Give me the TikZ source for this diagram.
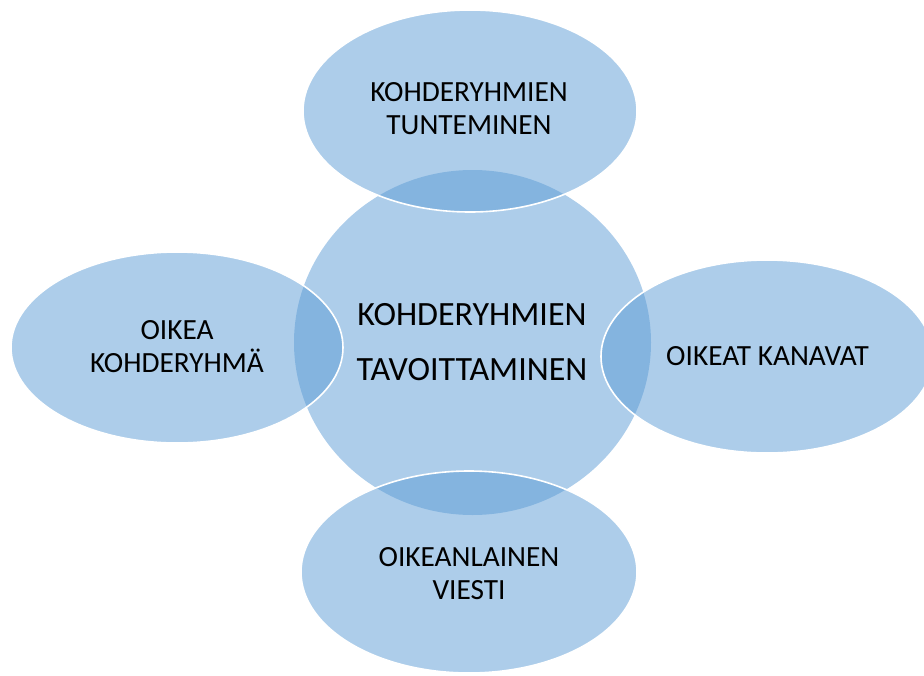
\documentclass[tikz,border=0pt]{standalone}
\usepackage{fontspec}
\setmainfont{Carlito}
\usetikzlibrary{shapes.geometric}
\definecolor{accentblue}{RGB}{91,155,213}
\tikzset{
  blob/.style={ellipse, inner sep=0pt, fill=accentblue, fill opacity=0.5},
  petal/.style={blob, draw=white, draw opacity=1, line width=1.6pt},
  smalltext/.style={align=center, text=black, font=\fontsize{29.3}{33}\selectfont, inner sep=0pt},
  bigtext/.style={align=center, text=black, font=\fontsize{34}{55}\selectfont, inner sep=0pt}
}
\begin{document}
\begin{tikzpicture}[x=1pt,y=-1pt]
\useasboundingbox (0,0) rectangle (924,675);
\clip (0,0) rectangle (924,675);
% central circle
\node[blob, minimum width=357pt, minimum height=345pt] (hub) at (472.5,342.5) {};
% petals
\node[petal, minimum width=334pt, minimum height=202pt] (top) at (470,111) {};
\node[petal, minimum width=332pt, minimum height=191pt] (left) at (177,347.5) {};
\node[petal, minimum width=332pt, minimum height=193pt] (right) at (767,356.5) {};
\node[petal, minimum width=336pt, minimum height=202pt] (bottom) at (469,572) {};
% texts
\node[bigtext] (hubtext) at (472,342) {KOHDERYHMIEN\\TAVOITTAMINEN};
\node[smalltext] (toptext) at (469,109) {KOHDERYHMIEN\\TUNTEMINEN};
\node[smalltext] (lefttext) at (177,347) {OIKEA\\KOHDERYHMÄ};
\node[smalltext] (righttext) at (767.5,356.5) {OIKEAT KANAVAT};
\node[smalltext] (bottomtext) at (469,574) {OIKEANLAINEN\\VIESTI};
\end{tikzpicture}
\end{document}
